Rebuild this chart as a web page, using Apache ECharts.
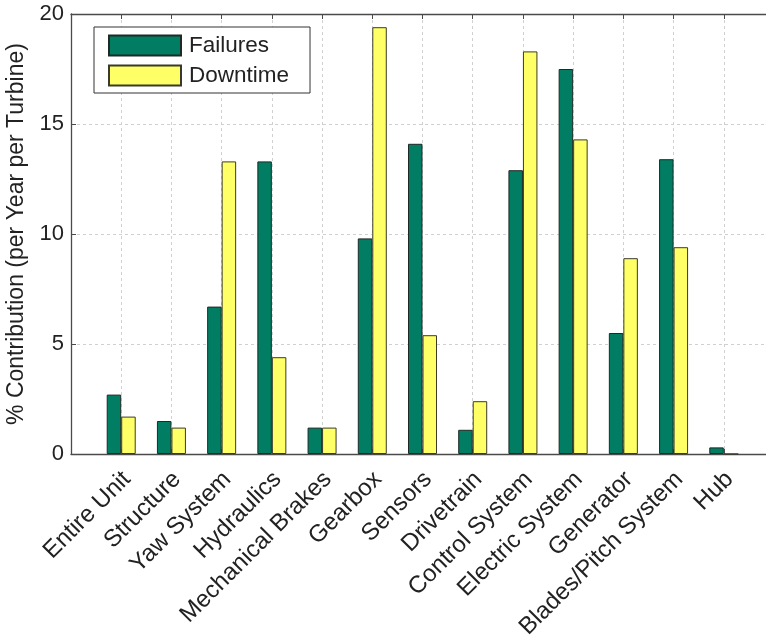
<!DOCTYPE html>
<html>
<head>
<meta charset="utf-8">
<script src="https://cdn.jsdelivr.net/npm/echarts@6/dist/echarts.min.js"></script>
<style>
  html, body { margin: 0; padding: 0; background: #fff; }
  #chart { width: 766px; height: 635px; }
</style>
</head>
<body>
<div id="chart"></div>
<script>
// Turbine subsystems, in plotting order
const categories = [
  'Entire Unit', 'Structure', 'Yaw System', 'Hydraulics', 'Mechanical Brakes',
  'Gearbox', 'Sensors', 'Drivetrain', 'Control System', 'Electric System',
  'Generator', 'Blades/Pitch System', 'Hub'
];
// % contribution per year per turbine
const failures = [2.7, 1.5, 6.7, 13.3, 1.2, 9.8, 14.1, 1.1, 12.9, 17.5, 5.5, 13.4, 0.3];
const downtime = [1.7, 1.2, 13.3, 4.4, 1.2, 19.4, 5.4, 2.4, 18.3, 14.3, 8.9, 9.4, 0];
const yTicks = [0, 5, 10, 15, 20];

const FONT = '"Liberation Sans", Arial, Helvetica, sans-serif';
const AXIS_COLOR = '#4a4a4a';
const GRID_STYLE = { color: '#d0d0d0', type: [3, 3], width: 1 };

// Categories sit at positions 1..N on a numeric axis
const toPairs = vals => vals.map((v, i) => [i + 1, v]);

const chart = echarts.init(document.getElementById('chart'), null, { renderer: 'canvas' });

const xBase = {
  type: 'value',
  min: 0,
  max: categories.length + 1,
  interval: 1,
  axisLine: { show: true, lineStyle: { color: AXIS_COLOR, width: 1.3 } },
  axisTick: { show: true, inside: true, length: 5, lineStyle: { color: AXIS_COLOR } }
};

chart.setOption({
  animation: false,
  backgroundColor: '#fff',
  textStyle: { fontFamily: FONT },
  grid: {
    left: 71, top: 14, width: 703, height: 440,
    containLabel: false,
    outerBoundsMode: 'none'
  },
  legend: {
    orient: 'vertical',
    left: 94,
    top: 27,
    padding: [7, 21, 6, 14],
    itemGap: 7,
    itemWidth: 72,
    itemHeight: 20,
    icon: 'rect',
    backgroundColor: '#fff',
    borderColor: '#333',
    borderWidth: 1,
    textStyle: { fontSize: 22.5, color: '#222', fontFamily: FONT, padding: [0, 0, 0, 3] },
    data: ['Failures', 'Downtime']
  },
  xAxis: [
    Object.assign({}, xBase, {
      position: 'bottom',
      axisLabel: {
        show: true,
        rotate: 45,
        margin: 6,
        align: 'right',
        verticalAlign: 'top',
        padding: [3, 7, 0, 0],
        fontSize: 24,
        color: '#222',
        fontFamily: FONT,
        showMinLabel: false,
        showMaxLabel: false,
        formatter: v => categories[v - 1] || ''
      },
      splitLine: { show: true, lineStyle: GRID_STYLE }
    }),
    Object.assign({}, xBase, {
      position: 'top',
      axisLabel: { show: false },
      splitLine: { show: false }
    })
  ],
  yAxis: {
    type: 'value',
    min: yTicks[0],
    max: yTicks[yTicks.length - 1],
    interval: yTicks[1] - yTicks[0],
    name: '% Contribution (per Year per Turbine)',
    nameLocation: 'middle',
    nameGap: 34,
    nameTextStyle: { fontSize: 23, color: '#222', fontFamily: FONT },
    axisLine: { show: true, lineStyle: { color: AXIS_COLOR, width: 1.3 } },
    axisTick: { show: true, inside: true, length: 5, lineStyle: { color: AXIS_COLOR } },
    axisLabel: { fontSize: 22, color: '#222', margin: 7, fontFamily: FONT },
    splitLine: { show: true, lineStyle: GRID_STYLE }
  },
  series: [
    {
      name: 'Failures',
      type: 'bar',
      xAxisIndex: 0,
      barWidth: 14.5,
      barGap: '0%',
      itemStyle: { color: '#007d62', borderColor: '#1f2a24', borderWidth: 1 },
      data: toPairs(failures)
    },
    {
      name: 'Downtime',
      type: 'bar',
      xAxisIndex: 0,
      barWidth: 14.5,
      barGap: '0%',
      itemStyle: { color: '#ffff66', borderColor: '#3a3a2a', borderWidth: 1 },
      data: toPairs(downtime)
    }
  ]
});
</script>
</body>
</html>
